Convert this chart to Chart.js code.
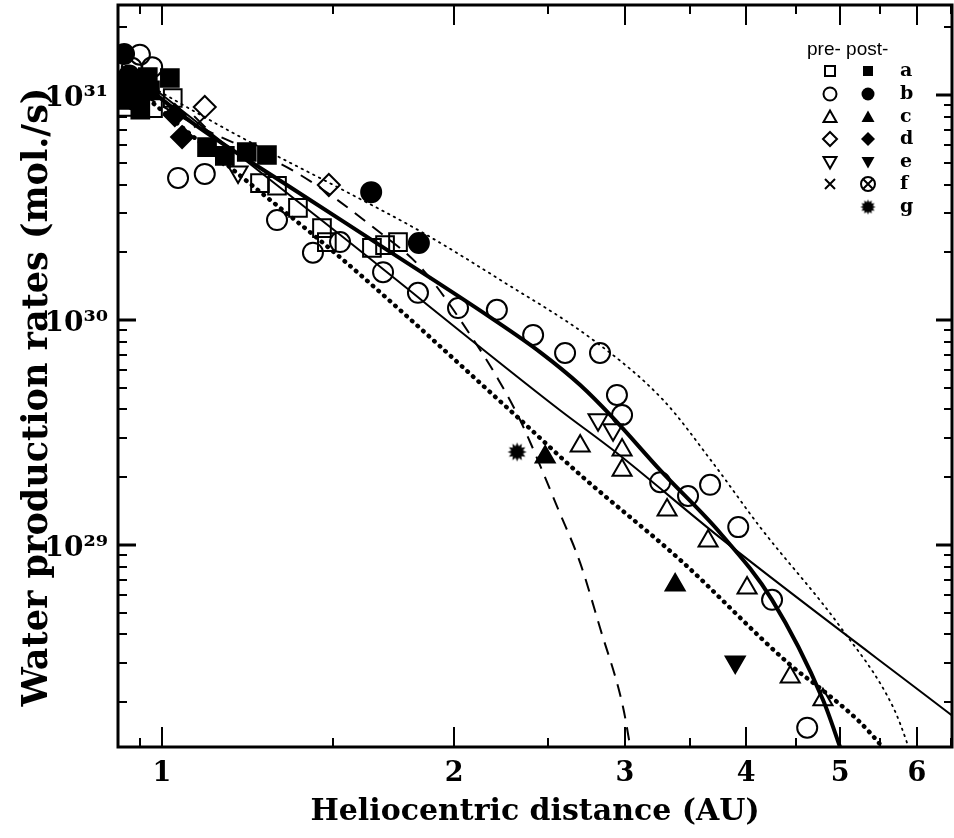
<!DOCTYPE html>
<html><head><meta charset="utf-8">
<script src="https://cdn.jsdelivr.net/npm/chart.js@4.4.0/dist/chart.umd.min.js"></script>
<style>html,body{margin:0;padding:0;background:#fff;}canvas{display:block;}</style>
</head><body>
<canvas id="c" width="954" height="838"></canvas>
<script>
// ---------- axis ranges & ticks ----------
const xMin = 0.901, xMax = 6.52;
const yMin = 1.264e28, yMax = 2.512e31;
const xTickValues = [0.95, 1, 1.5, 2, 2.5, 3, 3.5, 4, 4.5, 5, 5.5, 6, 6.5];
const xLabelValues = [1, 2, 3, 4, 5, 6];
const xTickLabels = ['1', '2', '3', '4', '5', '6'];
const yTickValues = [2e28,3e28,4e28,5e28,6e28,7e28,8e28,9e28,
  1e29,2e29,3e29,4e29,5e29,6e29,7e29,8e29,9e29,
  1e30,2e30,3e30,4e30,5e30,6e30,7e30,8e30,9e30,1e31,2e31];
const yLabelValues = [1e29, 1e30, 1e31];
const yTickLabels = ['10²⁹', '10³⁰', '10³¹'];
const xTitle = 'Heliocentric distance (AU)';
const yTitle = 'Water production rates (mol./s)';

// ---------- observations [r (AU), Q (mol/s)] ----------
const preA = [[0.92,8.85e30],[0.979,8.75e30],[1.026,9.7e30],[1.262,4.06e30],[1.314,3.95e30],[1.381,3.15e30],[1.462,2.56e30],[1.479,2.22e30],[1.646,2.09e30],[1.698,2.15e30],[1.751,2.22e30]];
const postA = [[0.91,9.5e30],[0.935,1.12e31],[0.972,1.05e31],[0.967,1.2e31],[1.019,1.19e31],[0.95,8.6e30],[1.113,5.87e30],[1.161,5.36e30],[1.223,5.58e30],[1.283,5.41e30]];
const preB = [[0.949,1.51e31],[0.977,1.33e31],[0.931,1.32e31],[1.039,4.28e30],[1.107,4.46e30],[1.314,2.78e30],[1.431,1.99e30],[1.526,2.22e30],[1.69,1.63e30],[1.836,1.32e30],[2.019,1.13e30],[2.214,1.11e30],[2.413,8.58e29],[2.603,7.13e29],[2.828,7.13e29],[2.944,4.64e29],[2.98,3.78e29],[3.262,1.9e29],[3.485,1.65e29],[3.672,1.85e29],[3.926,1.2e29],[4.254,5.7e28],[4.624,1.54e28]];
const postB = [[0.914,1.52e31],[0.925,1.22e31],[0.905,1.05e31],[0.916,1.11e31],[0.938,9.5e30],[1.643,3.7e30],[1.84,2.2e30]];
const preC = [[2.698,2.75e29],[2.98,2.64e29],[2.98,2.15e29],[3.316,1.43e29],[3.655,1.04e29],[4.009,6.44e28],[4.441,2.59e28],[4.8,2.05e28]];
const postC = [[2.483,2.46e29],[3.38,6.64e28]];
const preD = [[1.107,8.85e30],[1.486,3.98e30]];
const postD = [[1.049,6.5e30],[1.031,8.15e30]];
const preE = [[2.815,3.6e29],[2.917,3.25e29],[1.198,4.55e30]];
const postE = [[3.898,3.02e28]];
const preF = [[1.094,7.6e30],[1.17,5.14e30]];
const postG = [[2.323,2.59e29]];

// ---------- model curves [r, Q] ----------
const curveThick = [[0.922,1.27e31],[1.076,7.5e30],[1.355,3.9e30],[1.706,2.05e30],[2.178,1.03e30],[2.453,7.2e29],[2.698,5.14e29],[2.917,3.67e29],[3.262,2.15e29],[3.761,1.13e29],[4.254,5.7e28],[4.80,2.05e28],[5.02,1.2e28]];
const curveThin = [[0.916,1.35e31],[1.526,2.39e30],[2.57,3.98e29],[2.917,2.64e29],[3.788,1.05e29],[6.55,1.72e28]];
const curveDashed = [[0.916,1.11e31],[1.094,7.21e30],[1.378,4.5e30],[1.665,2.51e30],[1.858,1.67e30],[2.128,7.36e29],[2.214,5.58e29],[2.339,3.6e29],[2.57,1.39e29],[2.698,8.32e28],[2.828,4.28e28],[2.987,1.9e28],[3.045,1.2e28]];
const curveDotThin = [[0.916,1.27e31],[1.184,6.78e30],[1.537,3.78e30],[1.858,2.44e30],[2.23,1.51e30],[2.782,8.15e29],[3.285,4.41e29],[3.69,2.34e29],[4.135,1.2e29],[5.0,4.33e28],[5.67,1.9e28],[5.86,1.32e28],[5.90,1.2e28]];
const curveDotThick = [[0.916,1.17e31],[1.195,4.5e30],[1.537,1.85e30],[2.30,3.86e29],[2.698,2.05e29],[3.42,8.58e28],[4.441,2.93e28],[4.79,2.27e28],[5.24,1.63e28],[5.54,1.25e28],[5.6,1.18e28]];

// ---------- helpers ----------
const toXY = a => a.map(p => ({x: p[0], y: p[1]}));
function makeStar(rOut, rIn, n) {
  const s = Math.ceil(rOut * 2 + 2);
  const c = document.createElement('canvas'); c.width = c.height = s;
  const g = c.getContext('2d'); g.beginPath();
  for (let i = 0; i < 2 * n; i++) {
    const a = i * Math.PI / n, r = i % 2 ? rIn : rOut;
    g.lineTo(s / 2 + r * Math.cos(a), s / 2 + r * Math.sin(a));
  }
  g.closePath(); g.fillStyle = '#000'; g.fill();
  return c;
}
const starBig = makeStar(9.5, 6, 12);
const starSmall = makeStar(7.5, 5, 12);

function marks(data, style, filled, radius, rotation) {
  return {
    type: 'scatter', data: toXY(data), showLine: false,
    pointStyle: style, pointRadius: radius, pointHoverRadius: radius,
    pointRotation: rotation || 0,
    pointBorderColor: '#000', pointBorderWidth: 2,
    pointBackgroundColor: filled ? '#000' : 'rgba(0,0,0,0)', clip: 0
  };
}
function curve(data, width, dash, cap) {
  return {
    type: 'line', data: toXY(data), showLine: true, pointRadius: 0,
    borderColor: '#000', borderWidth: width, borderDash: dash || [],
    borderCapStyle: cap || 'butt', cubicInterpolationMode: 'monotone',
    fill: false, clip: 0
  };
}

const SERIF = '"DejaVu Serif", "Liberation Serif", serif';

// ---------- frame + inward ticks + y title + legend ----------
const framePlugin = {
  id: 'frame',
  afterDraw(chart) {
    const {ctx, chartArea: a, scales: {x, y}} = chart;
    ctx.save();
    ctx.strokeStyle = '#000';
    ctx.lineWidth = 2;
    xTickValues.forEach(v => {
      const px = Math.round(x.getPixelForValue(v));
      const L = xLabelValues.includes(v) ? 20 : 9;
      ctx.beginPath();
      ctx.moveTo(px, a.bottom); ctx.lineTo(px, a.bottom - L);
      ctx.moveTo(px, a.top); ctx.lineTo(px, a.top + L);
      ctx.stroke();
    });
    yTickValues.forEach(v => {
      const py = Math.round(y.getPixelForValue(v));
      const major = yLabelValues.includes(v);
      const L = major ? 18 : 9;
      ctx.lineWidth = major ? 3 : 2;
      ctx.beginPath();
      ctx.moveTo(a.left, py); ctx.lineTo(a.left + L, py);
      ctx.moveTo(a.right, py); ctx.lineTo(a.right - (major ? 16 : 8), py);
      ctx.stroke();
    });
    ctx.lineWidth = 3;
    ctx.strokeRect(a.left, a.top, a.right - a.left, a.bottom - a.top);

    // y axis title
    ctx.fillStyle = '#000';
    ctx.save();
    ctx.translate(38, 397);
    ctx.rotate(-Math.PI / 2);
    ctx.font = 'bold 35px ' + SERIF;
    ctx.textAlign = 'center'; ctx.textBaseline = 'middle';
    ctx.fillText(yTitle, 0, 0);
    ctx.restore();

    // legend
    ctx.font = '19px "Liberation Sans", Arial, sans-serif';
    ctx.textBaseline = 'middle'; ctx.textAlign = 'left';
    ctx.fillText('pre- post-', 807, 50);
    const rows = ['a','b','c','d','e','f','g'];
    const rowY = [71, 94, 117, 139, 162, 184, 207];
    const xPre = 830, xPost = 868, xLet = 900;
    ctx.font = 'bold 19px ' + SERIF;
    rows.forEach((l, i) => ctx.fillText(l, xLet, rowY[i]));
    ctx.lineWidth = 2;
    function shape(kind, cx, cy, fill) {
      ctx.beginPath();
      if (kind === 'rect') { ctx.rect(cx - 5, cy - 5, 10, 10); }
      else if (kind === 'circle') { ctx.arc(cx, cy, 6.5, 0, Math.PI * 2); }
      else if (kind === 'tri') { ctx.moveTo(cx, cy - 6.5); ctx.lineTo(cx + 6.5, cy + 5); ctx.lineTo(cx - 6.5, cy + 5); ctx.closePath(); }
      else if (kind === 'triDown') { ctx.moveTo(cx, cy + 6.5); ctx.lineTo(cx + 6.5, cy - 5); ctx.lineTo(cx - 6.5, cy - 5); ctx.closePath(); }
      else if (kind === 'diamond') { ctx.moveTo(cx, cy - 7); ctx.lineTo(cx + 7, cy); ctx.lineTo(cx, cy + 7); ctx.lineTo(cx - 7, cy); ctx.closePath(); }
      else if (kind === 'cross') { ctx.moveTo(cx - 5, cy - 5); ctx.lineTo(cx + 5, cy + 5); ctx.moveTo(cx + 5, cy - 5); ctx.lineTo(cx - 5, cy + 5); ctx.stroke(); return; }
      else if (kind === 'otimes') { ctx.arc(cx, cy, 7, 0, Math.PI * 2); ctx.stroke(); ctx.beginPath(); ctx.moveTo(cx - 4.5, cy - 4.5); ctx.lineTo(cx + 4.5, cy + 4.5); ctx.moveTo(cx + 4.5, cy - 4.5); ctx.lineTo(cx - 4.5, cy + 4.5); ctx.stroke(); return; }
      if (fill) ctx.fill(); else ctx.stroke();
    }
    const kinds = ['rect','circle','tri','diamond','triDown'];
    kinds.forEach((k, i) => { shape(k, xPre, rowY[i], false); shape(k, xPost, rowY[i], true); });
    shape('cross', xPre, rowY[5]); shape('otimes', xPost, rowY[5]);
    ctx.drawImage(starSmall, xPost - starSmall.width / 2, rowY[6] - starSmall.height / 2);
    ctx.restore();
  }
};

new Chart(document.getElementById('c'), {
  data: {
    datasets: [
      curve(curveThick, 4),
      curve(curveThin, 2),
      curve(curveDashed, 2, [13, 9]),
      curve(curveDotThin, 1.8, [1.5, 5], 'round'),
      curve(curveDotThick, 4.5, [0.5, 7], 'round'),
      marks(preA, 'rect', false, 12.5),
      marks(postA, 'rect', true, 12.5),
      marks(preB, 'circle', false, 10),
      marks(postB, 'circle', true, 10),
      marks(preC, 'triangle', false, 11),
      marks(postC, 'triangle', true, 11),
      marks(preD, 'rectRot', false, 11),
      marks(postD, 'rectRot', true, 11),
      marks(preE, 'triangle', false, 11, 180),
      marks(postE, 'triangle', true, 11, 180),
      marks(preF, 'crossRot', false, 8),
      Object.assign(marks(postG, starBig, true, 10), {pointStyle: starBig})
    ]
  },
  options: {
    responsive: false, animation: false, devicePixelRatio: 1,
    layout: {autoPadding: false, padding: {left: 0, right: 2, top: 5, bottom: 0}},
    plugins: {legend: {display: false}, tooltip: {enabled: false}},
    scales: {
      x: {
        type: 'logarithmic', min: xMin, max: xMax, position: 'bottom',
        afterBuildTicks: s => { s.ticks = xTickValues.map(v => ({value: v})); },
        afterFit: s => { s.height = 91; s.paddingLeft = 0; s.paddingRight = 0; },
        grid: {display: false, drawTicks: false}, border: {display: false},
        ticks: {
          autoSkip: false, maxRotation: 0, minRotation: 0, padding: 11, color: '#000',
          font: {family: SERIF, size: 27, weight: 'bold'},
          callback: v => { const i = xLabelValues.indexOf(v); return i >= 0 ? xTickLabels[i] : ''; }
        },
        title: {display: true, text: xTitle, color: '#000',
          font: {family: SERIF, size: 30, weight: 'bold'}, padding: {top: 0, bottom: 8}}
      },
      y: {
        type: 'logarithmic', min: yMin, max: yMax, position: 'left',
        afterBuildTicks: s => { s.ticks = yTickValues.map(v => ({value: v})); },
        afterFit: s => { s.width = 118; s.paddingTop = 0; s.paddingBottom = 0; },
        grid: {display: false, drawTicks: false}, border: {display: false},
        ticks: {
          autoSkip: false, padding: 10, color: '#000', labelOffset: 4,
          font: {family: SERIF, size: 28, weight: 'bold'},
          callback: v => { const i = yLabelValues.findIndex(t => Math.abs(t - v) / t < 1e-6); return i >= 0 ? yTickLabels[i] : ''; }
        },
        title: {display: false}
      }
    }
  },
  plugins: [framePlugin]
});
</script>
</body></html>
